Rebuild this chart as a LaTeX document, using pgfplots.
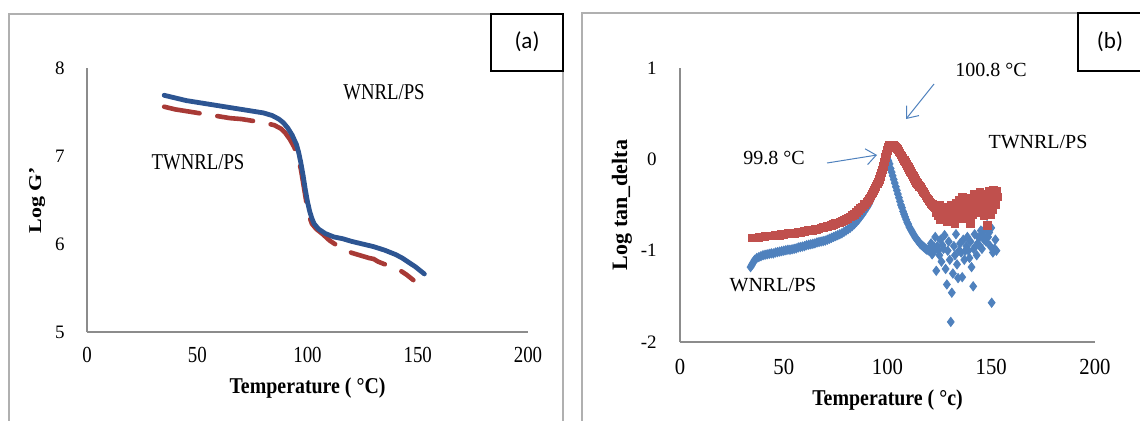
\documentclass[border=0pt]{standalone}
\usepackage{pgfplots}
\pgfplotsset{compat=1.18}
\usepackage{fontspec}
\setmainfont{Liberation Serif}
\newfontfamily\calfont{Carlito}
\usetikzlibrary{arrows.meta}
\definecolor{framegray}{HTML}{B0B0B0}
\definecolor{axisgray}{HTML}{8C8C8C}
\definecolor{lblue}{HTML}{2D5592}
\definecolor{lred}{HTML}{A83A36}
\definecolor{mblue}{HTML}{4F81BD}
\definecolor{mred}{HTML}{C0504D}
\pgfplotsset{
  panel/.style={
    anchor=south west, scale only axis,
    xmin=0, xmax=200,
    axis x line=bottom, axis y line=left,
    axis line style={axisgray, line width=0.75pt, -},
    xtick={0,50,100,150,200},
    major tick length=0pt, tick style={draw=none},
    /pgf/number format/assume math mode=true,
    clip=false,
    ylabel style={rotate=0, anchor=center, font=\bfseries\fontsize{11}{13}\selectfont},
    xlabel style={anchor=center, font=\bfseries\fontsize{11.3}{13}\selectfont, xscale=0.88},
  }
}
\begin{document}
\begin{tikzpicture}
\useasboundingbox (0,0) rectangle (570pt,210pt);
\clip (0,0) rectangle (570pt,210pt);
\draw[framegray, line width=0.75pt] (4.5pt,203pt) rectangle (281.5pt,-5pt);
\draw[framegray, line width=0.75pt] (291pt,203.5pt) rectangle (575pt,-5pt);

% ---------- panel (a)
\begin{axis}[panel, at={(43.5pt,44pt)}, width=220.5pt, height=132pt,
  ymin=5, ymax=8, ytick={5,6,7,8},
  xticklabel style={anchor=center, yshift=-11.5pt, font=\fontsize{11.5}{13}\selectfont, xscale=0.82},
  yticklabel style={anchor=east, inner sep=0pt, xshift=-11pt, font=\fontsize{9.5}{11}\selectfont},
  xlabel={Temperature ( °C)}, xlabel style={at={(axis description cs:0.5,-0.212)}},
  ylabel={Log G'}, ylabel style={at={(axis description cs:-0.113,0.5)}, rotate=0, xscale=1, yscale=0.82},
]
\addplot[lred, line width=2.3pt, dash pattern=on 18pt off 9pt, line cap=round] coordinates {
(35,7.56) (40,7.53) (45,7.51) (50,7.49) (55,7.47) (60,7.45) (65,7.43) (70,7.42)
(75,7.40) (80,7.38) (85,7.35) (88,7.31) (90,7.26) (92,7.19) (94,7.10) (96,6.95)
(97,6.85) (98,6.70) (99,6.55) (100,6.40) (101,6.30) (102,6.23) (104,6.17) (107,6.11)
(110,6.04) (113,5.99) (116,5.95) (120,5.90) (124,5.87) (128,5.84) (130,5.83) (132,5.80)
(136,5.76) (139,5.73) (142,5.70) (145,5.65) (148,5.59)
};
\addplot[lblue, line width=2.4pt, line cap=round] coordinates {
(35,7.69) (40,7.66) (45,7.63) (50,7.61) (55,7.59) (60,7.57) (65,7.55) (70,7.53)
(75,7.51) (80,7.49) (84,7.46) (87,7.42) (89,7.38) (91,7.32) (93,7.24) (95,7.13)
(96,7.04) (97,6.92) (98,6.78) (99,6.62) (100,6.48) (101,6.37) (102,6.29) (103,6.23)
(105,6.17) (108,6.12) (112,6.08) (116,6.06) (120,6.03) (125,6.00) (130,5.97)
(135,5.93) (140,5.88) (143,5.84) (146,5.79) (149,5.74) (152,5.68) (153,5.66)
};
\end{axis}
\node[font=\fontsize{11.3}{13}\selectfont, xscale=0.83] at (192pt,164pt) {WNRL/PS};
\node[font=\fontsize{11.3}{13}\selectfont, xscale=0.83] at (99pt,129pt) {TWNRL/PS};
\draw[black, line width=0.6pt, fill=white] (245.5pt,203pt) rectangle (281.5pt,174.5pt);
\node[font=\calfont\fontsize{11.5}{13}\selectfont] at (263.5pt,189pt) {(a)};

% ---------- panel (b)
\begin{axis}[panel, at={(340pt,39pt)}, width=207.5pt, height=137pt,
  ymin=-2, ymax=1, ytick={-2,-1,0,1},
  xticklabel style={anchor=center, yshift=-12.5pt, font=\fontsize{11.5}{13}\selectfont, xscale=0.9},
  yticklabel style={anchor=east, inner sep=0pt, xshift=-11.5pt, font=\fontsize{9.5}{11}\selectfont},
  xlabel={Temperature ( °c)}, xlabel style={at={(axis description cs:0.5,-0.212)}},
  ylabel={Log tan\_delta}, ylabel style={at={(axis description cs:-0.14,0.5)}},
]
\addplot[only marks, mark=diamond*, mark size=2.3pt, color=mblue] coordinates {
(34,-1.18) (34.5,-1.16) (35,-1.14) (35.5,-1.12) (36,-1.10) (37,-1.08) (38,-1.07) (39,-1.06)
(40,-1.05) (41,-1.045) (42,-1.04) (43,-1.035) (44,-1.03) (45,-1.03) (46,-1.02) (47,-1.015)
(48,-1.01) (49,-1.005) (50,-1.00) (51,-0.995) (52,-0.99) (53,-0.99) (54,-0.985) (55,-0.98)
(56,-0.975) (57,-0.965) (58,-0.96) (59,-0.955) (60,-0.95) (61,-0.94) (62,-0.935) (63,-0.93)
(64,-0.925) (65,-0.92) (66,-0.91) (67,-0.905) (68,-0.90) (69,-0.895) (70,-0.89) (71,-0.88)
(72,-0.87) (73,-0.86) (74,-0.85) (75,-0.84) (76,-0.83) (77,-0.82) (78,-0.81) (79,-0.795)
(80,-0.78) (81,-0.765) (82,-0.75) (83,-0.73) (84,-0.71) (85,-0.685) (86,-0.66) (87,-0.63)
(88,-0.60) (89,-0.565) (90,-0.53) (90.5,-0.51) (91,-0.49) (91.5,-0.465) (92,-0.44)
(92.5,-0.415) (93,-0.39) (93.5,-0.36) (94,-0.33) (94.5,-0.30) (95,-0.27) (95.5,-0.24)
(96,-0.21) (96.5,-0.175) (97,-0.14) (97.5,-0.105) (98,-0.07) (98.5,-0.045) (99,-0.02)
(99.5,-0.01) (100,0.0) (100.5,-0.02) (101,-0.05) (101.5,-0.10) (102,-0.14) (102.5,-0.18)
(103,-0.22) (103.5,-0.26) (104,-0.30) (104.5,-0.34) (105,-0.38) (105.5,-0.42) (106,-0.46)
(106.5,-0.50) (107,-0.53) (107.5,-0.57) (108,-0.60) (108.5,-0.63) (109,-0.66) (109.5,-0.69)
(110,-0.71) (110.5,-0.74) (111,-0.76) (111.5,-0.78) (112,-0.80) (112.5,-0.82) (113,-0.84)
(113.5,-0.86) (114,-0.87) (114.5,-0.89) (115,-0.90) (115.5,-0.92) (116,-0.93) (116.5,-0.94)
(117,-0.95) (117.5,-0.96) (118,-0.97) (118.5,-0.98) (119,-0.99) (119.5,-0.99) (120,-1.00)
(120.5,-0.96) (121,-0.92) (121.5,-1.04) (122,-1.02) (122.5,-0.96) (123,-0.85) (123.5,-1.22)
(124,-0.95) (124.5,-1.00) (125,-1.05) (125.5,-0.88) (126,-1.12) (126.5,-0.94) (127,-0.98)
(127.5,-0.83) (128,-1.20) (128.6,-1.37) (129,-1.00) (129.5,-0.90) (130,-1.10) (130.5,-1.78)
(131,-1.46) (131.5,-1.25) (132,-0.95) (132.5,-1.05) (133,-0.82) (133.5,-1.15) (134,-1.30)
(134.5,-1.00) (135,-0.92) (135.5,-1.02) (136,-1.29) (136.5,-0.88) (137,-1.10) (137.5,-1.00)
(138,-0.95) (138.5,-0.85) (139,-1.00) (139.5,-1.08) (140,-0.90) (140.5,-1.18) (141.3,-1.39)
(141.5,-0.98) (142,-0.82) (142.5,-0.95) (143,-1.05) (143.5,-0.92) (144,-0.86) (144.5,-0.95)
(145,-0.78) (145.5,-0.98) (146,-0.82) (146.5,-0.88) (147,-0.76) (147.5,-0.90) (148,-0.72)
(148.5,-0.85) (149,-0.80) (149.5,-0.95) (150,-0.75) (150.2,-1.57) (150.8,-1.02) (151.5,-0.98)
(152,-0.88) (152.5,-1.00)
};
\addplot[only marks, mark=square*, mark size=1.9pt, color=mred] coordinates {
(35,-0.86) (36,-0.86) (37,-0.86) (38,-0.855) (39,-0.85) (40,-0.85) (41,-0.845) (42,-0.84)
(43,-0.84) (44,-0.84) (45,-0.84) (46,-0.835) (47,-0.83) (48,-0.83) (49,-0.825) (50,-0.82)
(51,-0.815) (52,-0.81) (53,-0.81) (54,-0.81) (55,-0.81) (56,-0.805) (57,-0.80) (58,-0.80)
(59,-0.795) (60,-0.79) (61,-0.785) (62,-0.78) (63,-0.78) (64,-0.775) (65,-0.77) (66,-0.765)
(67,-0.76) (68,-0.75) (69,-0.745) (70,-0.74) (71,-0.735) (72,-0.73) (73,-0.72) (74,-0.71)
(75,-0.70) (76,-0.695) (77,-0.69) (78,-0.68) (79,-0.67) (80,-0.66) (81,-0.645) (82,-0.63)
(83,-0.615) (84,-0.60) (85,-0.58) (86,-0.56) (87,-0.54) (88,-0.52) (89,-0.495) (90,-0.47)
(90.5,-0.455) (91,-0.44) (91.5,-0.42) (92,-0.40) (92.5,-0.38) (93,-0.36) (93.5,-0.34)
(94,-0.32) (94.5,-0.295) (95,-0.27) (95.5,-0.245) (96,-0.22) (96.5,-0.185) (97,-0.15)
(97.5,-0.115) (98,-0.08) (98.5,-0.03) (99,0.02) (99.5,0.06) (100,0.10) (100.5,0.13)
(101,0.15) (101.5,0.16) (102,0.16) (102.5,0.155) (103,0.15) (103.5,0.14) (104,0.13)
(104.5,0.12) (105,0.11) (105.5,0.09) (106,0.07) (106.5,0.05) (107,0.03) (107.5,0.01)
(108,-0.01) (108.5,-0.03) (109,-0.05) (109.5,-0.07) (110,-0.09) (110.5,-0.11) (111,-0.13)
(111.5,-0.15) (112,-0.17) (112.5,-0.19) (113,-0.21) (113.5,-0.23) (114,-0.25) (114.5,-0.265)
(115,-0.28) (115.5,-0.295) (116,-0.31) (116.5,-0.33) (117,-0.35) (117.5,-0.365) (118,-0.38)
(118.5,-0.40) (119,-0.42) (119.5,-0.435) (120,-0.45) (120.5,-0.465) (121,-0.48)
(121.5,-0.495) (122,-0.51) (122.5,-0.52) (123,-0.53) (123.5,-0.58)
(124,-0.55) (124.5,-0.62) (125,-0.50) (125.5,-0.66) (126,-0.57) (126.5,-0.53) (127,-0.52)
(127.5,-0.64) (128,-0.60) (128.6,-0.52) (129,-0.68) (129.5,-0.56) (130,-0.58) (130.5,-0.50)
(131,-0.62) (131.5,-0.66) (132,-0.55) (132.5,-0.70) (133,-0.48) (133.5,-0.57) (134,-0.60)
(134.5,-0.45) (135,-0.55) (135.5,-0.62) (136,-0.41) (136.5,-0.65) (137,-0.50) (137.5,-0.46)
(138,-0.58) (138.5,-0.42) (139,-0.52) (139.5,-0.60) (140,-0.70) (140.5,-0.45) (141,-0.60)
(141.5,-0.50) (142,-0.38) (142.5,-0.55) (143,-0.50) (143.5,-0.44) (144,-0.42) (144.6,-0.36)
(145,-0.58) (145.5,-0.50) (146,-0.45) (146.5,-0.62) (147,-0.38) (147.5,-0.55) (148,-0.72)
(148.5,-0.50) (149,-0.35) (149.5,-0.60) (150,-0.45) (150.5,-0.55) (151,-0.34) (151.5,-0.42)
(152,-0.50) (152.5,-0.35) (153,-0.41)
};
\end{axis}
\node[font=\fontsize{10}{12}\selectfont] at (519pt,139pt) {TWNRL/PS};
\node[font=\fontsize{10}{12}\selectfont] at (386.5pt,67.5pt) {WNRL/PS};
\node[font=\fontsize{10}{12}\selectfont] at (387pt,131pt) {99.8 °C};
\node[font=\fontsize{10}{12}\selectfont] at (495.5pt,175pt) {100.8 °C};
\draw[mblue, line width=0.5pt, -{Straight Barb[length=5pt,width=8pt]}] (413.5pt,128.5pt) -- (438.5pt,132.5pt);
\draw[mblue, line width=0.5pt, -{Straight Barb[length=5pt,width=8pt]}] (467pt,168pt) -- (453pt,150.5pt);
\draw[black, line width=0.6pt, fill=white] (539pt,203.5pt) rectangle (580pt,174.5pt);
\node[font=\calfont\fontsize{11.5}{13}\selectfont] at (555pt,189pt) {(b)};
\end{tikzpicture}
\end{document}
